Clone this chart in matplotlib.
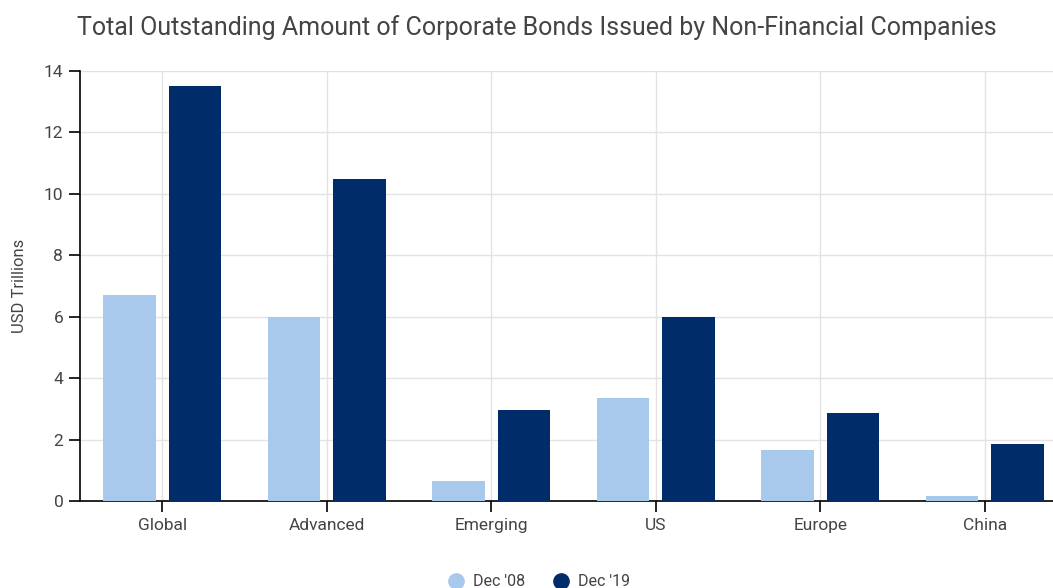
import matplotlib.pyplot as plt
import numpy as np

regions = ["Global", "Advanced", "Emerging", "US", "Europe", "China"]
dec_08 = [6.7, 6.0, 0.65, 3.35, 1.67, 0.16]
dec_19 = [13.5, 10.5, 2.95, 6.0, 2.87, 1.86]

LIGHT = "#a8c8ec"
DARK = "#002d6a"
TEXT = "#444444"

plt.rcParams['font.family'] = ['Roboto', 'DejaVu Sans']

W, H = 1053, 588
fig = plt.figure(figsize=(W / 100, H / 100), dpi=100)
# plot area runs past the right edge of the figure
left, right, top, bottom = 80, 1067, 71, 501
ax = fig.add_axes([left / W, 1 - bottom / H, (right - left) / W, (bottom - top) / H])

x = np.arange(len(regions))
width = 0.32
ax.bar(x - 0.2, dec_08, width, color=LIGHT, label="Dec '08", zorder=3)
ax.bar(x + 0.2, dec_19, width, color=DARK, label="Dec '19", zorder=3)

ax.set_xlim(-0.5, len(regions) - 0.5)
ax.set_ylim(0, 14)
ax.set_yticks(range(0, 15, 2))
ax.set_xticks(x)
ax.set_xticklabels(regions)
ax.grid(True, color="#e3e3e3", linewidth=1, zorder=0)

for s in ("top", "right"):
    ax.spines[s].set_visible(False)
for s in ("left", "bottom"):
    ax.spines[s].set_color("black")
    ax.spines[s].set_linewidth(1.2)
ax.tick_params(axis="both", colors="black", labelcolor=TEXT, labelsize=12.5,
               length=8, width=1.2, pad=4)

ax.set_ylabel("USD Trillions", color=TEXT, fontsize=12, labelpad=12)

fig.text(537 / W, 1 - 28 / H, "Total Outstanding Amount of Corporate Bonds Issued by Non-Financial Companies",
         ha="center", va="center", fontsize=18, color=TEXT)

handles = [
    plt.Line2D([], [], marker="o", linestyle="", markersize=11, color=LIGHT),
    plt.Line2D([], [], marker="o", linestyle="", markersize=11, color=DARK),
]
fig.legend(handles, ["Dec '08", "Dec '19"], loc="center", bbox_to_anchor=(535 / W, 1 - 582 / H),
           ncol=2, frameon=False, fontsize=11.5, labelcolor=TEXT, handletextpad=0.1,
           columnspacing=1.2)

fig.savefig("out.png", dpi=100)
